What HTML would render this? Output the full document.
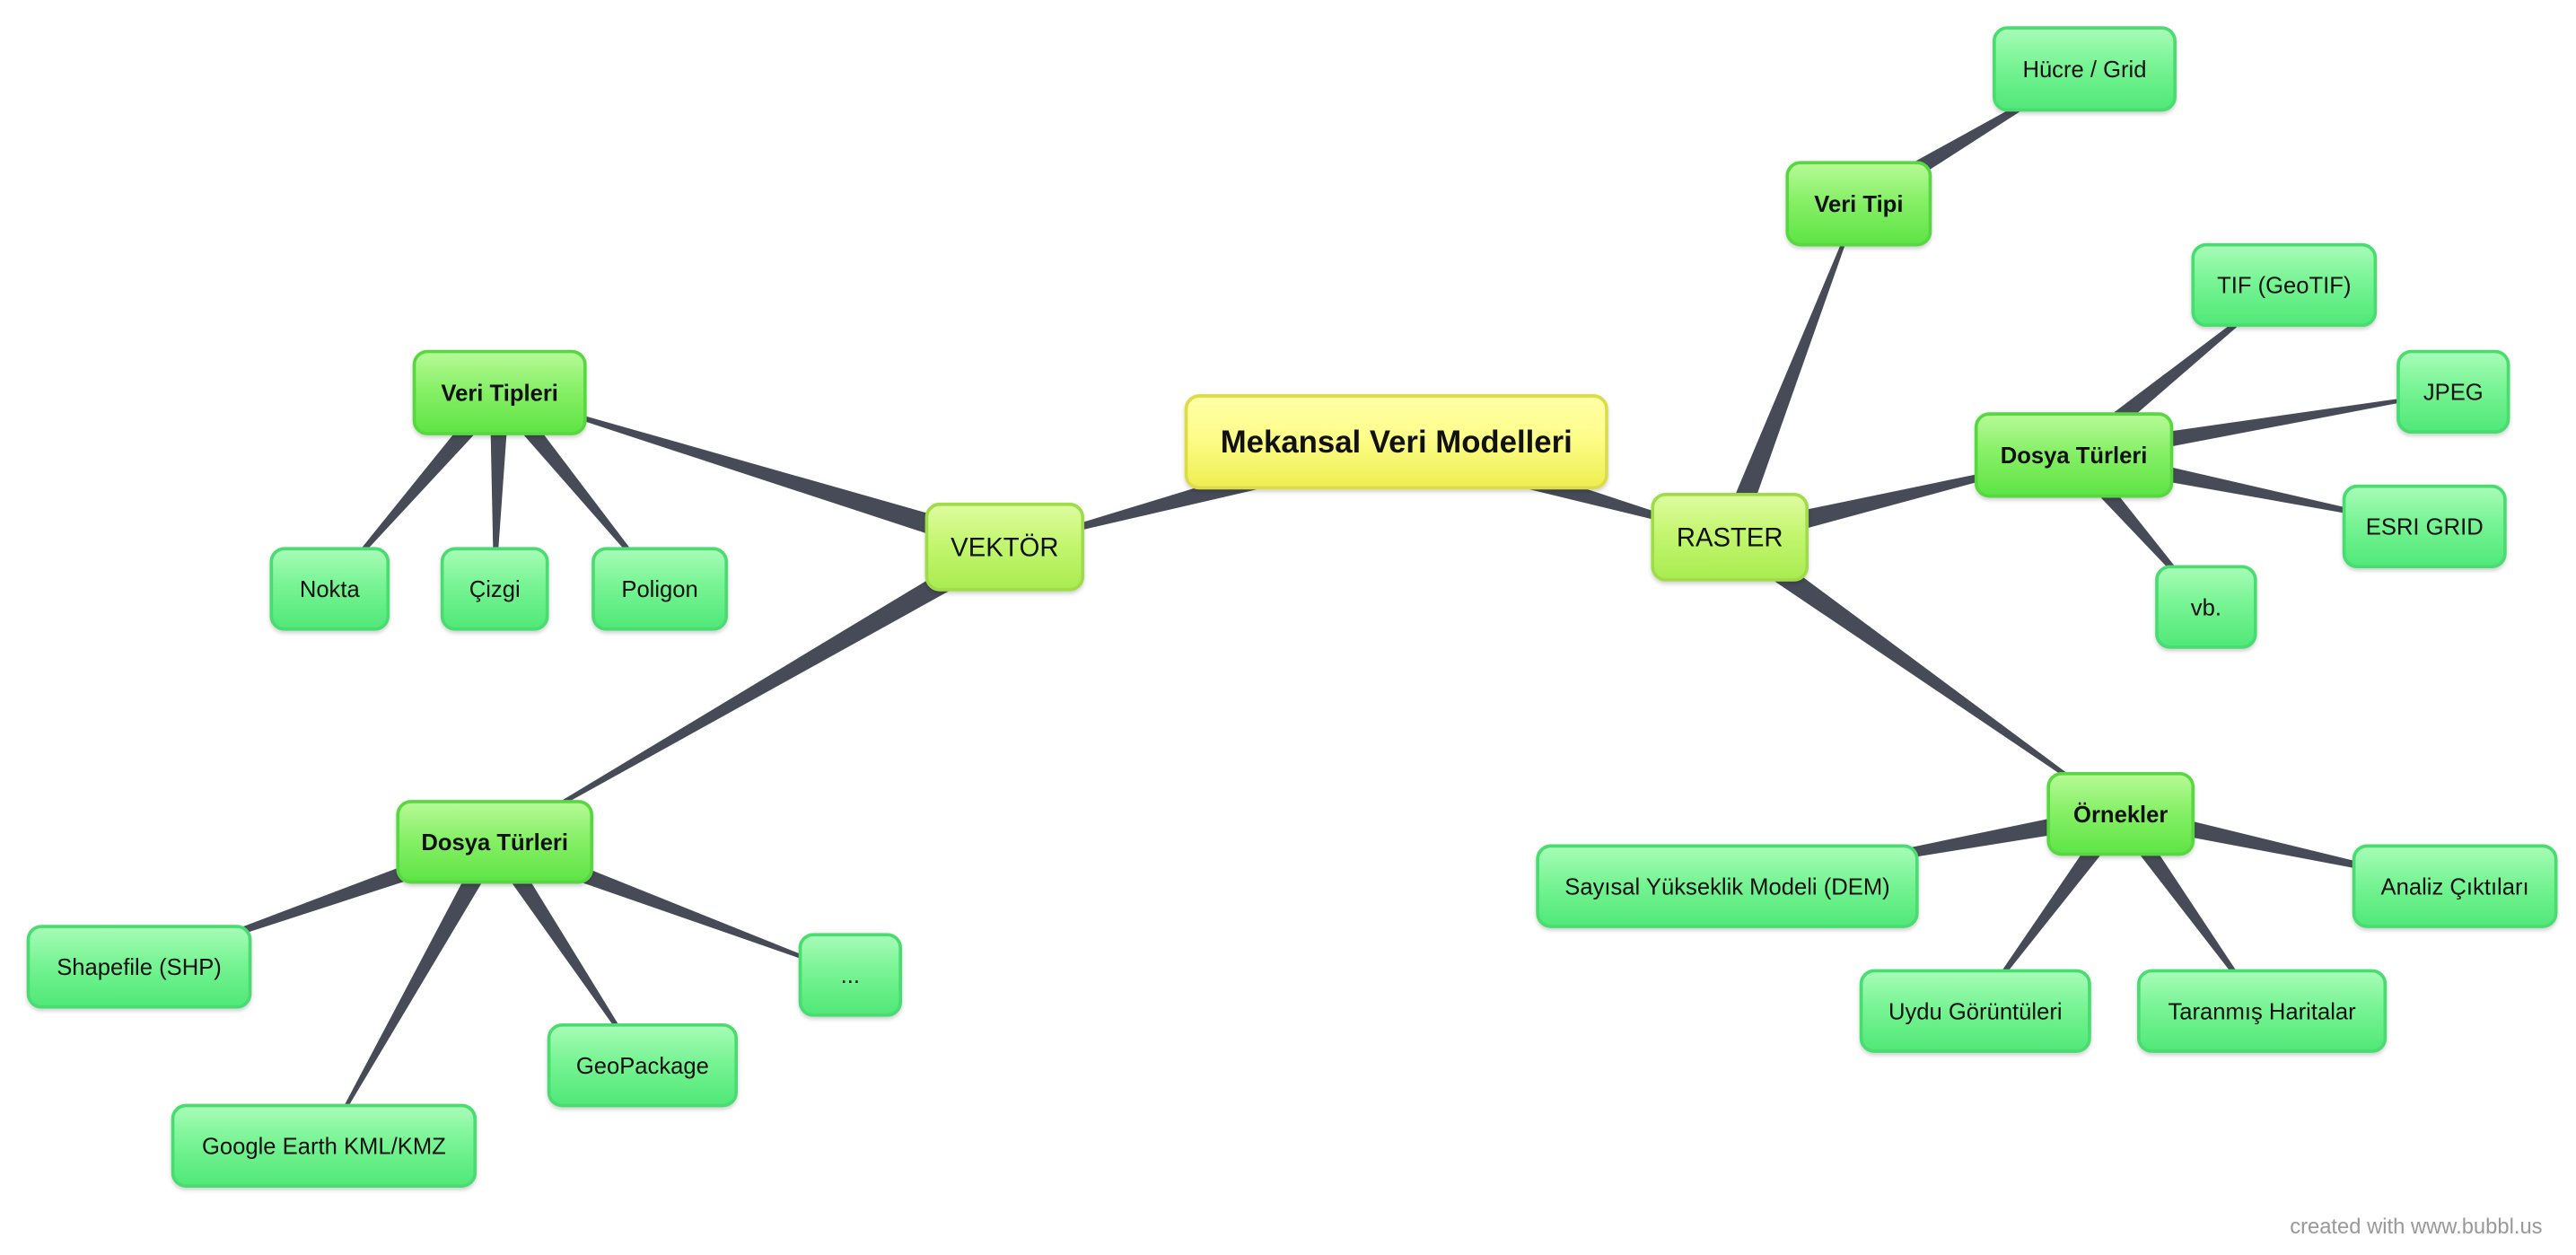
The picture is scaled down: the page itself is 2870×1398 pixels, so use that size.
<!DOCTYPE html>
<html><head><meta charset="utf-8"><style>
html,body{margin:0;padding:0;background:#fff;}
svg{display:block;}
text{font-family:"Liberation Sans",sans-serif;fill:#111;}
</style></head><body>
<svg id="s" width="2870" height="1398" viewBox="0 0 1568 764" xmlns="http://www.w3.org/2000/svg">
<defs>
<linearGradient id="gy" x1="0" y1="0" x2="0" y2="1"><stop offset="0" stop-color="#ffffa8"/><stop offset="0.45" stop-color="#fdfd8a"/><stop offset="1" stop-color="#eeee50"/></linearGradient>
<linearGradient id="g1" x1="0" y1="0" x2="0" y2="1"><stop offset="0" stop-color="#defca0"/><stop offset="0.45" stop-color="#c4f670"/><stop offset="1" stop-color="#a8ec50"/></linearGradient>
<linearGradient id="g2" x1="0" y1="0" x2="0" y2="1"><stop offset="0" stop-color="#b8fa98"/><stop offset="0.45" stop-color="#88f068"/><stop offset="1" stop-color="#5ee444"/></linearGradient>
<linearGradient id="g3" x1="0" y1="0" x2="0" y2="1"><stop offset="0" stop-color="#a8fcb8"/><stop offset="0.45" stop-color="#78f494"/><stop offset="1" stop-color="#50e878"/></linearGradient>
<filter id="sh" x="-10%" y="-10%" width="120%" height="130%"><feDropShadow dx="0" dy="1.5" stdDeviation="1.2" flood-color="#000" flood-opacity="0.18"/></filter>
</defs>
<g id="edges" fill="#474b57"></g>
<g id="nodes"></g>
<text x="1394" y="751" font-size="13" style="fill:#999">created with www.bubbl.us</text>
</svg>
<script>
var N={
root:[721,240,258,58,'Mekansal Veri Modelleri',0],
vek:[563,306,97,54,'VEKTÖR',1],
ras:[1005,300,96,54,'RASTER',1],
vt:[251,213,106,52,'Veri Tipleri',2],
nok:[164,333,73,51,'Nokta',3],
ciz:[268,333,66,51,'Çizgi',3],
pol:[360,333,83,51,'Poligon',3],
dtl:[241,487,120,51,'Dosya Türleri',2],
shp:[16,563,137,51,'Shapefile (SHP)',3],
kml:[104,672,186,51,'Google Earth KML/KMZ',3],
gpk:[333,623,116,51,'GeoPackage',3],
dot:[486,568,63,51,'...',3],
vtr:[1087,98,89,52,'Veri Tipi',2],
huc:[1213,16,112,52,'Hücre / Grid',3],
dtr:[1202,251,121,52,'Dosya Türleri',2],
tif:[1334,148,113,51,'TIF (GeoTIF)',3],
jpg:[1459,213,69,51,'JPEG',3],
esr:[1426,295,100,51,'ESRI GRID',3],
vb:[1312,344,62,51,'vb.',3],
orn:[1246,470,90,51,'Örnekler',2],
dem:[935,514,233,51,'Sayısal Yükseklik Modeli (DEM)',3],
uyd:[1132,590,141,51,'Uydu Görüntüleri',3],
tar:[1301,590,152,51,'Taranmış Haritalar',3],
ana:[1432,514,125,51,'Analiz Çıktıları',3]};
var E=[['root','vek'],['root','ras'],['vek','vt'],['vek','dtl'],['vt','nok'],['vt','ciz'],['vt','pol'],
['dtl','shp'],['dtl','kml'],['dtl','gpk'],['dtl','dot'],['ras','vtr'],['ras','dtr'],['ras','orn'],['vtr','huc'],
['dtr','tif'],['dtr','jpg'],['dtr','esr'],['dtr','vb'],['orn','dem'],['orn','uyd'],['orn','tar'],['orn','ana']];
var ns='http://www.w3.org/2000/svg';
function c(k){var n=N[k];return [n[0]+n[2]/2,n[1]+n[3]/2];}
var eg=document.getElementById('edges');
E.forEach(function(e){var p=c(e[0]),q=c(e[1]);var dx=q[0]-p[0],dy=q[1]-p[1],L=Math.hypot(dx,dy);var nx=-dy/L,ny=dx/L;
var w1=N[e[0]][5]==0?9:(N[e[0]][5]==1?7:6),w2=0.5;
var pts=[[p[0]+nx*w1,p[1]+ny*w1],[q[0]+nx*w2,q[1]+ny*w2],[q[0]-nx*w2,q[1]-ny*w2],[p[0]-nx*w1,p[1]-ny*w1]];
var pg=document.createElementNS(ns,'polygon');pg.setAttribute('points',pts.map(function(a){return a.join(',')}).join(' '));eg.appendChild(pg);});
var ng=document.getElementById('nodes');
var fills=['url(#gy)','url(#g1)','url(#g2)','url(#g3)'],strokes=['#dcdc48','#a0dc48','#58d840','#48dc70'];
for(var k in N){var n=N[k];var g=document.createElementNS(ns,'g');
var r=document.createElementNS(ns,'rect');r.setAttribute('x',n[0]+1);r.setAttribute('y',n[1]+1);r.setAttribute('width',n[2]-2);r.setAttribute('height',n[3]-2);
r.setAttribute('rx',8);r.setAttribute('fill',fills[n[5]]);r.setAttribute('stroke',strokes[n[5]]);r.setAttribute('stroke-width',2);r.setAttribute('filter','url(#sh)');g.appendChild(r);
var t=document.createElementNS(ns,'text');t.setAttribute('x',n[0]+n[2]/2);t.setAttribute('y',n[1]+n[3]/2+(n[5]==0?6.5:n[5]==1?5.5:5));t.setAttribute('text-anchor','middle');
t.setAttribute('font-size',n[5]==0?19:n[5]==1?16:14);if(n[5]==0||n[5]==2)t.setAttribute('font-weight','bold');t.textContent=n[4];g.appendChild(t);ng.appendChild(g);}
</script>
</body></html>
